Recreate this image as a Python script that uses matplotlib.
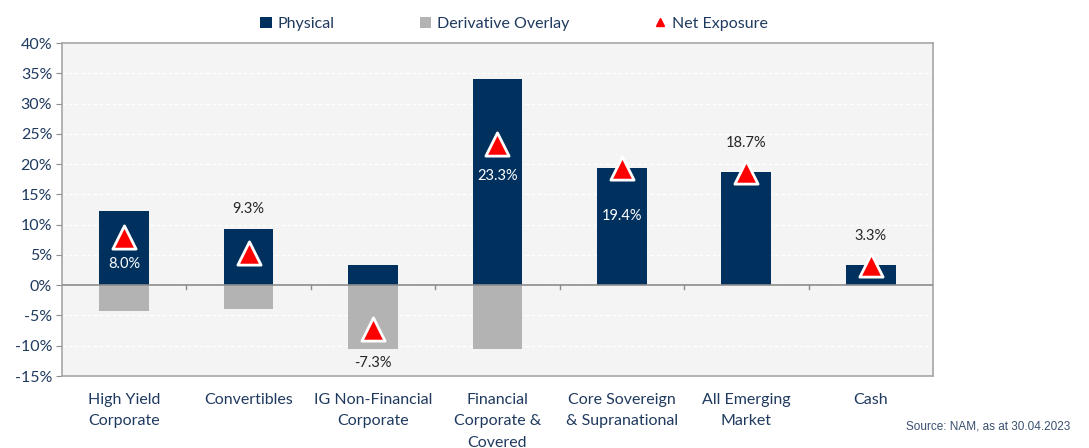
import matplotlib.pyplot as plt
from matplotlib.patches import Patch
from matplotlib.lines import Line2D
import numpy as np

categories = ['High Yield\nCorporate', 'Convertibles', 'IG Non-Financial\nCorporate',
              'Financial\nCorporate &\nCovered', 'Core Sovereign\n& Supranational',
              'All Emerging\nMarket', 'Cash']
physical = [12.2, 9.3, 3.3, 34.0, 19.4, 18.7, 3.3]
derivative = [-4.2, -4.0, -10.5, -10.6, 0.0, 0.0, 0.0]
net = [8.0, 5.3, -7.3, 23.3, 19.4, 18.7, 3.3]
labels = ['8.0%', '9.3%', '-7.3%', '23.3%', '19.4%', '18.7%', '3.3%']
# where each label sits: inside (white, under triangle), above bar, below bar
label_pos = ['in', 'above', 'below', 'in', 'in', 'above', 'above']

navy = '#00305e'
grey = '#b3b3b3'
txt = '#1f3a5f'

plt.rcParams['font.family'] = ['Lato', 'DejaVu Sans']

fig = plt.figure(figsize=(10.89, 4.48), dpi=100)
ax = fig.add_axes([0.0569, 0.1607, 0.7998, 0.7433])
ax.set_facecolor('#f4f4f4')

x = np.arange(len(categories))
w = 0.4
ax.bar(x, physical, w, color=navy, zorder=3)
ax.bar(x, derivative, w, color=grey, zorder=3)
ax.scatter(x, net, marker='^', s=280, color='#ff0000', edgecolors='white',
           linewidths=2, zorder=5)

# offsets for the data labels (in % units)
in_off = {0: 4.5, 3: 5.3, 4: 7.9}
for i in range(len(x)):
    if label_pos[i] == 'in':
        ax.text(x[i], net[i] - in_off[i], labels[i], ha='center', va='center',
                color='white', fontsize=10.5, zorder=6)
    elif label_pos[i] == 'above':
        top = max(physical[i], net[i] + 1.5)
        ax.text(x[i], top + 3.3, labels[i], ha='center', va='center',
                color='#262626', fontsize=10.5, zorder=6)
    else:
        ax.text(x[i], derivative[i] - 2.3, labels[i], ha='center', va='center',
                color='#262626', fontsize=10.5, zorder=6)

ax.set_xlim(-0.5, len(x) - 0.5)
ax.set_ylim(-15, 40)
yt = np.arange(-15, 41, 5)
ax.set_yticks(yt)
ax.set_yticklabels([f'{v}%' for v in yt], color=txt, fontsize=11.5)
ax.yaxis.grid(True, color='white', linestyle=(0, (3, 2)), linewidth=0.9, zorder=1)
ax.tick_params(axis='y', length=4, color='#8c8c8c', pad=3)

ax.set_xticks(x)
ax.set_xticklabels(categories, color=txt, fontsize=11.5, va='top')
for t in ax.get_xticklabels():
    t.set_linespacing(1.7)
ax.tick_params(axis='x', length=0, pad=12)

# zero line with small ticks between categories
ax.axhline(0, color='#8c8c8c', linewidth=1.2, zorder=4)
for b in np.arange(0.5, len(x) - 1, 1):
    ax.plot([b, b], [0, -0.6], color='#8c8c8c', linewidth=1, zorder=4)

for s in ax.spines.values():
    s.set_color('#a6a6a6')
    s.set_linewidth(1.2)

handles = [Patch(facecolor=navy), Patch(facecolor=grey),
           Line2D([], [], marker='^', color='#ff0000', linestyle='none', markersize=6)]
leg = fig.legend(handles, ['Physical', 'Derivative Overlay', 'Net Exposure'],
                 loc='upper center', bbox_to_anchor=(0.472, 0.995), ncol=3, frameon=False,
                 fontsize=11.5, handlelength=0.7, handleheight=0.7, columnspacing=5.3,
                 handletextpad=0.4)
for t in leg.get_texts():
    t.set_color(txt)

fig.text(0.983, 0.035, 'Source: NAM, as at 30.04.2023', ha='right', va='bottom',
         fontsize=8.5, color='#3a5070', family=['Liberation Sans', 'DejaVu Sans'])

fig.savefig('out.png', dpi=100)
